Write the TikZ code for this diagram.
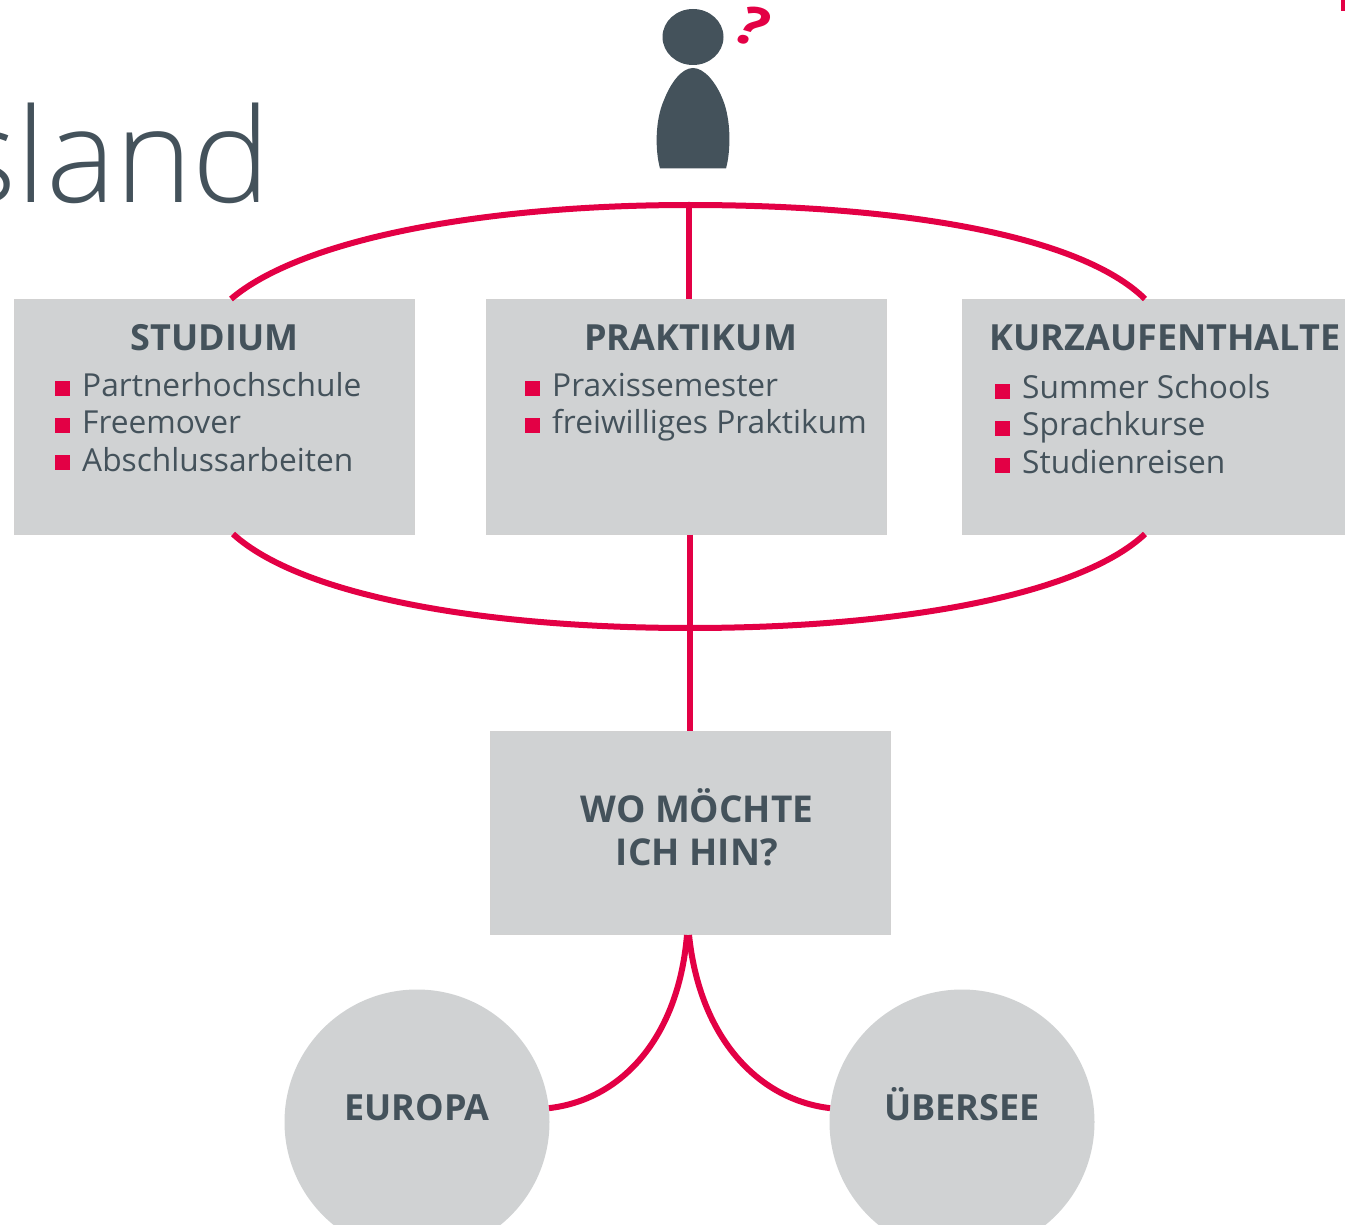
\documentclass[tikz,border=0pt]{standalone}
\usepackage{fontspec}
\setmainfont{Open Sans}
\newfontfamily\lightf{Open Sans Light}
\definecolor{inkc}{HTML}{44525B}
\definecolor{redc}{HTML}{E30045}
\definecolor{boxc}{HTML}{D0D2D3}
\newcommand{\fs}[1]{\fontsize{#1}{#1}\selectfont}
\tikzset{
  boxn/.style={draw=black!18,line width=.5pt,fill=boxc,minimum width=400pt,anchor=north west,inner sep=0pt},
  head/.style={text=inkc,font=\fs{36}\bfseries,inner sep=0pt},
  item/.style={text=inkc,font=\fs{31.7},inner sep=0pt,anchor=base west},
  bul/.style={fill=redc,minimum width=15pt,minimum height=15pt,inner sep=0pt},
  link/.style={draw=redc,line width=6pt},
  circ/.style={circle,fill=boxc,minimum size=265pt,inner sep=0pt},
}
\begin{document}
\begin{tikzpicture}[x=1pt,y=-1pt]
\useasboundingbox (0,0) rectangle (1345,1225);
\clip (0,0) rectangle (1345,1225);
\fill[white] (0,0) rectangle (1345,1225);
% boxes
\coordinate (tl) at (231,299); \coordinate (tr) at (1145,299);
\coordinate (bl) at (233,534); \coordinate (br) at (1145,534);
\coordinate (topm) at (689,205); \coordinate (botm) at (690,628);
\node[boxn,minimum height=235pt] (stu) at (14,299) {};
\node[boxn,minimum height=235pt] (pra) at (486,299) {};
\node[boxn,minimum height=235pt] (kur) at (962,299) {};
\node[boxn,minimum height=203pt] (wo) at (489.5,731) {};
\node[circ] (eur) at (417,1122) {};
\node[circ] (ueb) at (962,1122) {};
% connectors
\draw[link] (tl) .. controls (300,240) and (480,205) .. (topm) .. controls (900,205) and (1080,235) .. (tr);
\draw[link] (bl) .. controls (300,595) and (480,628) .. (botm) .. controls (900,628) and (1080,595) .. (br);
\draw[link] (topm) -- (689,299);
\draw[link] (pra.south -| wo.north) -- (wo.north);
\draw[link] (687,935) .. controls (678,1040) and (620,1100) .. (eur.6);
\draw[link] (689,935) .. controls (700,1040) and (760,1100) .. (ueb.174);
% title
\node[text=inkc,font=\lightf\fs{131},anchor=base east,inner sep=0pt] (title) at (271,203) {Ausland};
% person
\fill[inkc] (693,37) ellipse [x radius=30.5,y radius=28];
\fill[inkc] (660,168.5) .. controls (655,150) and (655,120) .. (664,100) .. controls (671,82) and (682,68) .. (693,68) .. controls (704,68) and (716,82) .. (723,100) .. controls (731,120) and (731,150) .. (726,168.5) -- cycle;
\node[text=redc,font=\fs{54}\bfseries\itshape,inner sep=0pt,rotate=-16,xscale=1.15] (q) at (751,26) {?};
\fill[redc] (1341,0) rectangle (1345,11);
% headings
\node[head] (h1) at (214.5,338) {STUDIUM};
\node[head] (h2) at (690.5,338) {PRAKTIKUM};
\node[head] (h3) at (1165,338) {KURZAUFENTHALTE};
\node[head,font=\fs{37}\bfseries,align=center] (h4) at (697,827) {WO MÖCHTE\\[6pt]ICH HIN?};
\node[head] (h5) at (417,1108) {EUROPA};
\node[head] (h6) at (962,1104.5) {ÜBERSEE};
% lists
\node[bul] (b11) at (62.5,388.5) {}; \node[item] (t11) at (82,396) {Partnerhochschule};
\node[bul] (b12) at (62.5,425.5) {}; \node[item] (t12) at (82,433.5) {Freemover};
\node[bul] (b13) at (62.5,462.5) {}; \node[item] (t13) at (82,471) {Abschlussarbeiten};
\node[bul] (b21) at (532.5,388.5) {}; \node[item] (t21) at (552,396) {Praxissemester};
\node[bul] (b22) at (532.5,425.5) {}; \node[item] (t22) at (552,433.5) {freiwilliges Praktikum};
\node[bul] (b31) at (1002.5,391) {}; \node[item] (t31) at (1022,398) {Summer Schools};
\node[bul] (b32) at (1002.5,428) {}; \node[item] (t32) at (1022,435.5) {Sprachkurse};
\node[bul] (b33) at (1002.5,465) {}; \node[item] (t33) at (1022,473) {Studienreisen};
\end{tikzpicture}
\end{document}
